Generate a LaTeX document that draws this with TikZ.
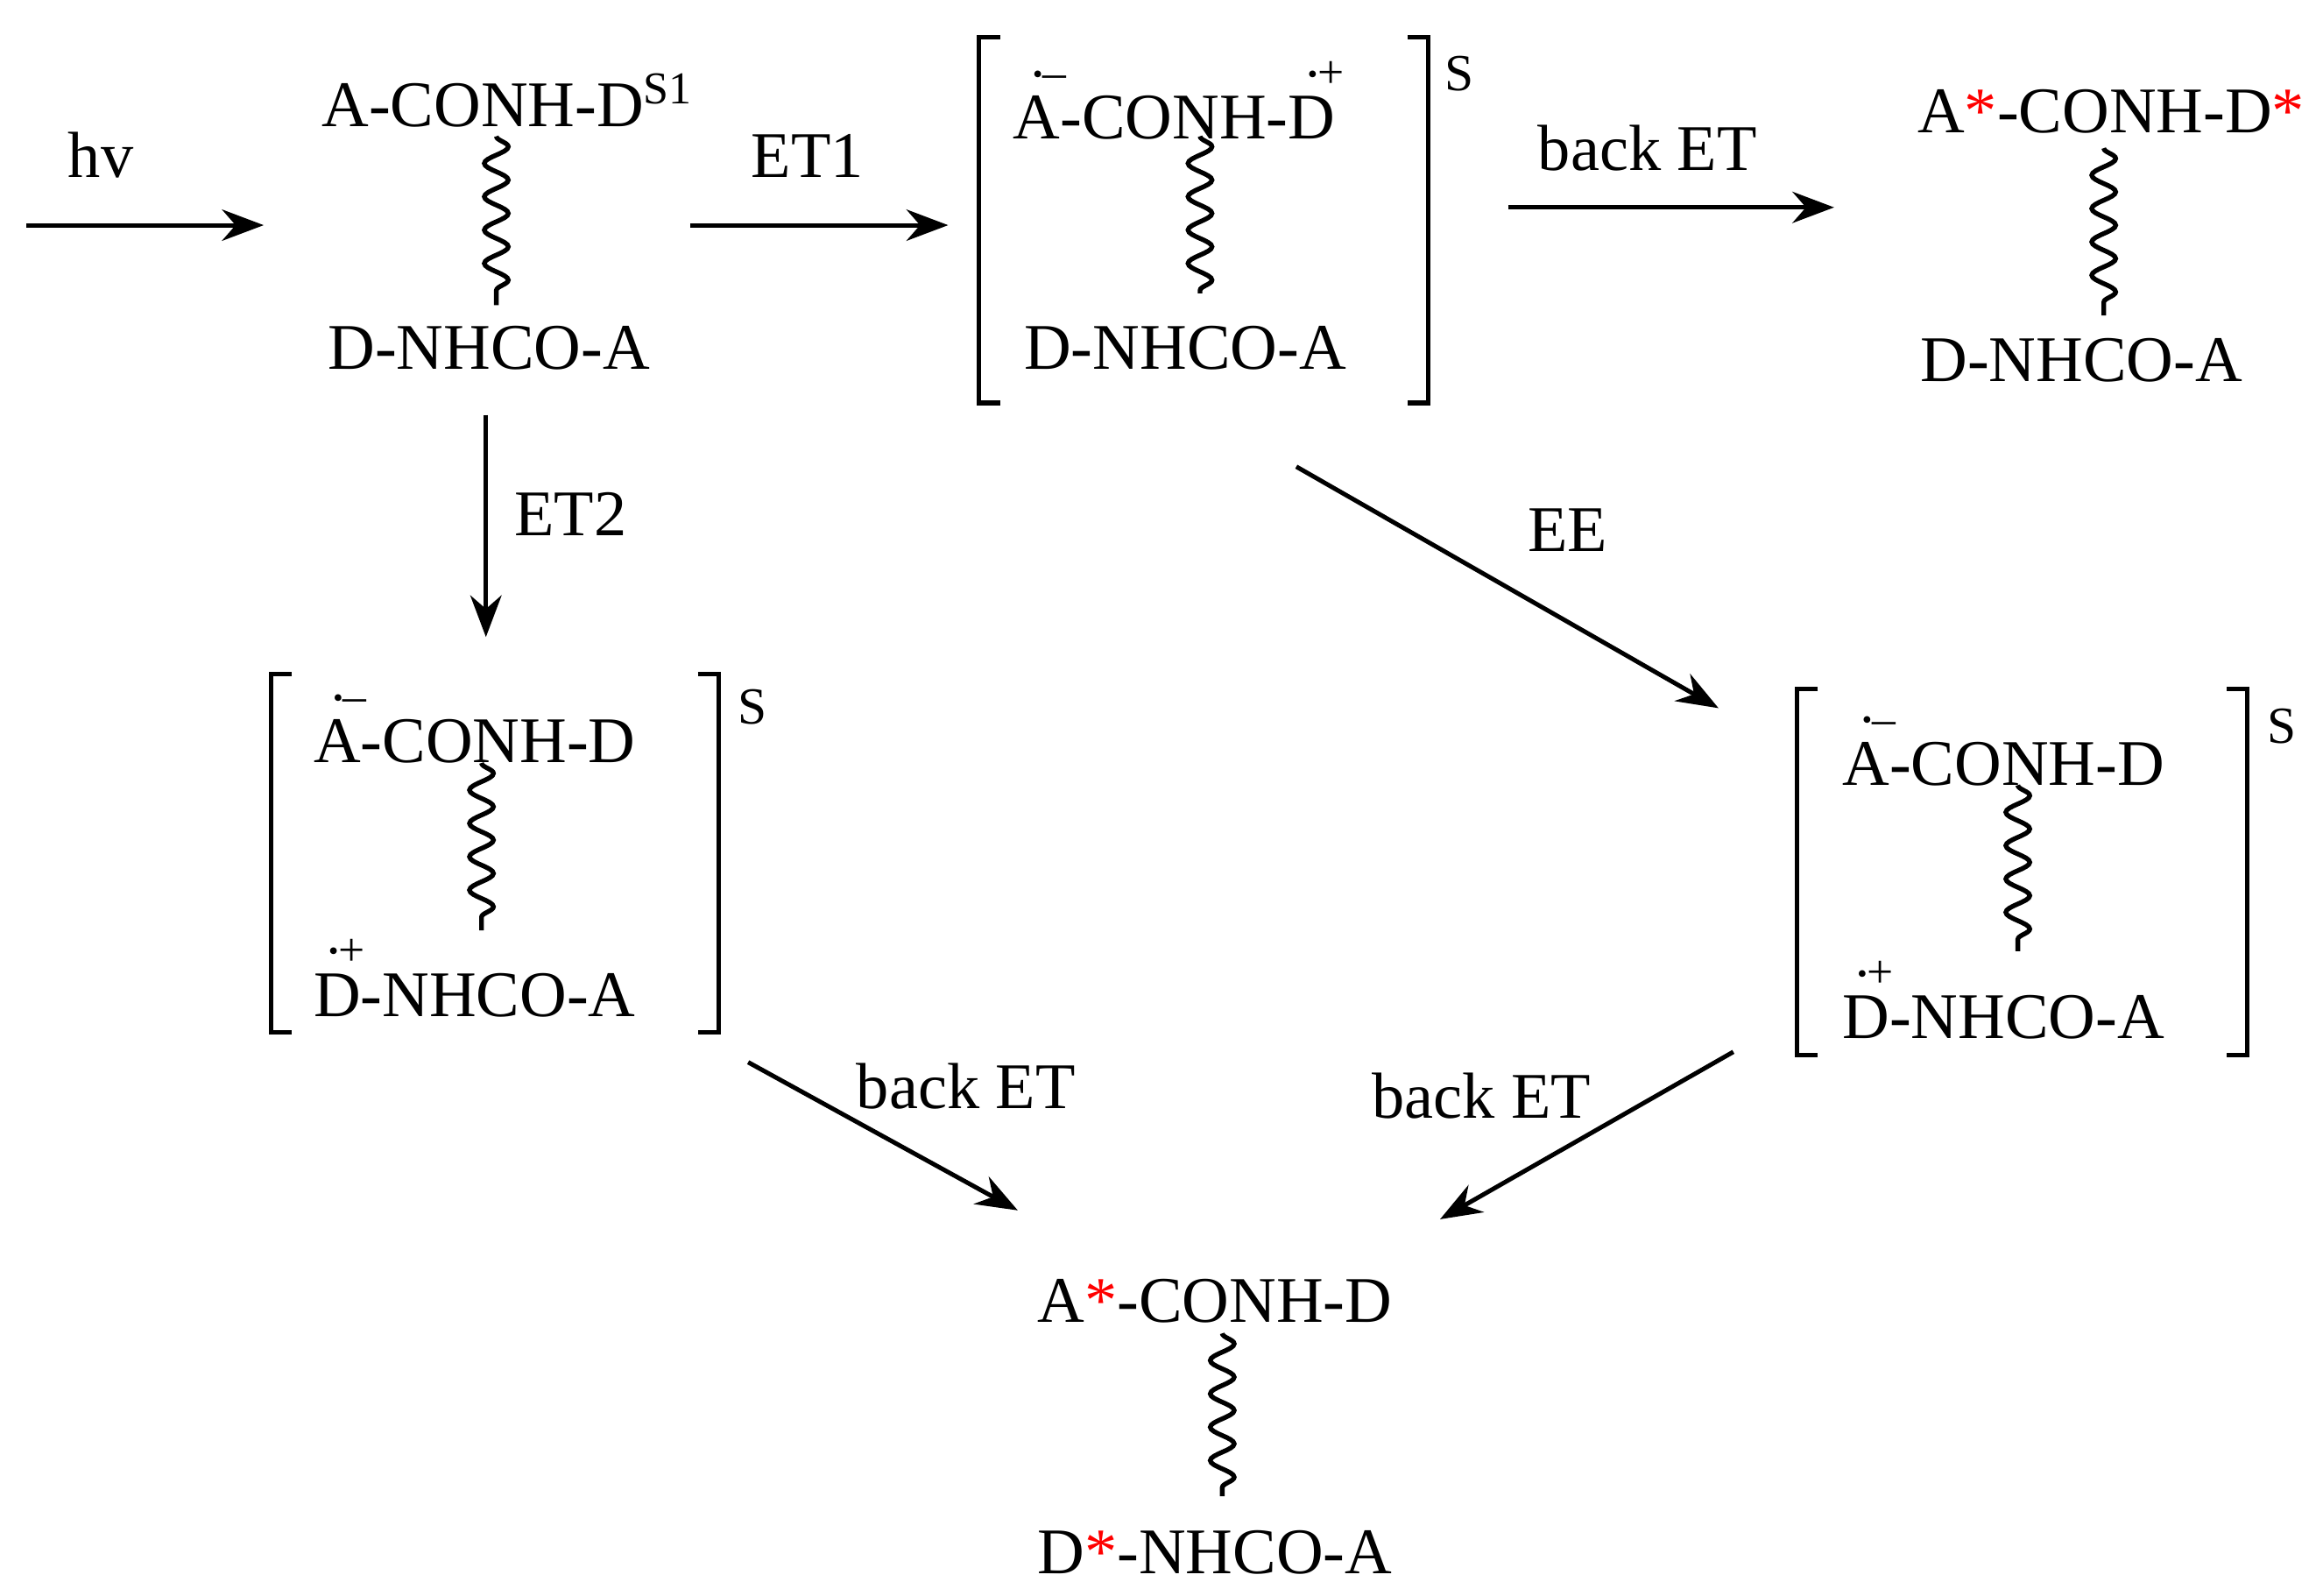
\documentclass[tikz,border=0pt]{standalone}
\usepackage{fontspec}
\setmainfont{Liberation Serif}
\usetikzlibrary{arrows.meta,decorations.pathmorphing}
\newcommand\rdm[2]{\leavevmode\rlap{\hspace{0.3em}\raisebox{0.78em}{\fontsize{9}{9}\selectfont #2}}#1}
\newcommand\rast{\textcolor{red}{*}}
\newcommand\rdot{\raisebox{0.1em}{\scalebox{0.6}{\textbullet}}}
\begin{document}
\begin{tikzpicture}[x=0.01cm,y=-0.01cm,
  txt/.style={inner sep=0pt,font=\fontsize{12.5}{14}\selectfont},
  lbl/.style={inner sep=0pt,font=\fontsize{12.5}{14}\selectfont},
  arr/.style={line width=0.85pt,-{Stealth[length=8pt,width=6pt]}},
  wav/.style={line width=0.9pt,decorate,decoration={snake,segment length=6.4pt,amplitude=2.3pt}},
  brk/.style={line width=0.85pt}]
\useasboundingbox (0,0) rectangle (1568,1077);
% hv
\coordinate (h0) at (18,152); \coordinate (h1) at (178,152);
\draw[arr] (h0) -- (h1); \node[lbl] (hv) at (68,105) {hv};
% node 1
\node[txt] (n1t) at (343,68) {A-CONH-D$^{\mathrm{S1}}$};
\node[txt] (n1b) at (330,235) {D-NHCO-A};
\coordinate (w1a) at (335,92); \coordinate (w1b) at (335,206);
\draw[wav] (w1a) -- (w1b);
% ET1
\coordinate (e10) at (466,152); \coordinate (e11) at (640,152);
\draw[arr] (e10) -- (e11); \node[lbl] (et1) at (545,105) {ET1};
% bracket 1
\draw[brk] (675,25) -- (661,25) -- (661,272) -- (675,272);
\draw[brk] (950,25) -- (964,25) -- (964,272) -- (950,272);
\node[txt] (s1) at (985,50) {\fontsize{10}{10}\selectfont S};
\node[txt] (b1t) at (805,68) {\rdm{A}{\rdot–}-CONH-\rdm{D}{\rdot+}\phantom{+}};
\node[txt] (b1b) at (800,235) {D-NHCO-A};
\coordinate (w2a) at (810,92); \coordinate (w2b) at (810,198);
\draw[wav] (w2a) -- (w2b);
% back ET top
\coordinate (t0) at (1018,140); \coordinate (t1) at (1238,140);
\draw[arr] (t0) -- (t1); \node[lbl] (bet1) at (1112,100) {back ET};
% node top right
\node[txt] (n2t) at (1425,75) {A\rast-CONH-D\rast};
\node[txt] (n2b) at (1405,243) {D-NHCO-A};
\coordinate (w3a) at (1420,100); \coordinate (w3b) at (1420,213);
\draw[wav] (w3a) -- (w3b);
% ET2
\coordinate (e20) at (328,280); \coordinate (e21) at (328,430);
\draw[arr] (e20) -- (e21); \node[lbl] (et2) at (385,347) {ET2};
% bracket 2
\draw[brk] (197,455) -- (183,455) -- (183,697) -- (197,697);
\draw[brk] (471,455) -- (485,455) -- (485,697) -- (471,697);
\node[txt] (s2) at (508,477) {\fontsize{10}{10}\selectfont S};
\node[txt,anchor=west] (b2t) at (211,492) {\rdm{A}{\rdot–}-CONH-D};
\node[txt,anchor=west] (b2b) at (211,660) {\rdm{D}{\hspace{-0.1em}\rdot+}-NHCO-A};
\coordinate (w4a) at (325,515); \coordinate (w4b) at (325,628);
\draw[wav] (w4a) -- (w4b);
% EE
\coordinate (ee0) at (875,315); \coordinate (ee1) at (1160,478);
\draw[arr] (ee0) -- (ee1); \node[lbl] (ee) at (1058,358) {EE};
% bracket 3
\draw[brk] (1227,465) -- (1213,465) -- (1213,712) -- (1227,712);
\draw[brk] (1503,465) -- (1517,465) -- (1517,712) -- (1503,712);
\node[txt] (s3) at (1540,490) {\fontsize{10}{10}\selectfont S};
\node[txt,anchor=west] (b3t) at (1243,507) {\rdm{A}{\rdot–}-CONH-D};
\node[txt,anchor=west] (b3b) at (1243,675) {\rdm{D}{\hspace{-0.1em}\rdot+}-NHCO-A};
\coordinate (w5a) at (1362,530); \coordinate (w5b) at (1362,642);
\draw[wav] (w5a) -- (w5b);
% back ET lower
\coordinate (l0) at (505,717); \coordinate (l1) at (687,817);
\draw[arr] (l0) -- (l1); \node[lbl] (bet2) at (652,733) {back ET};
\coordinate (r0) at (1170,710); \coordinate (r1) at (972,823);
\draw[arr] (r0) -- (r1); \node[lbl] (bet3) at (1000,740) {back ET};
% bottom
\node[txt] (n3t) at (820,878) {A\rast-CONH-D};
\node[txt] (n3b) at (820,1048) {D\rast-NHCO-A};
\coordinate (w6a) at (825,900); \coordinate (w6b) at (825,1010);
\draw[wav] (w6a) -- (w6b);
\end{tikzpicture}
\end{document}
